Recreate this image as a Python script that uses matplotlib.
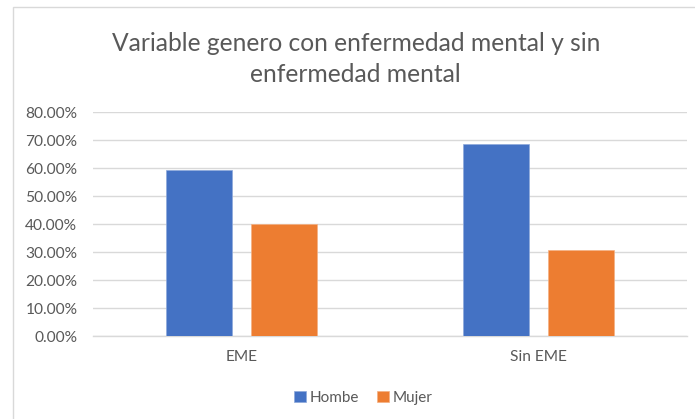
import matplotlib
matplotlib.use("Agg")
import matplotlib.pyplot as plt
from matplotlib.patches import Rectangle
from matplotlib.ticker import PercentFormatter
import numpy as np

# Share by gender, with and without mental illness
categories = ["EME", "Sin EME"]
hombre = [59.4, 68.7]
mujer = [40.1, 30.8]
series_names = ["Hombe", "Mujer"]
title_lines = ["Variable genero con enfermedad mental y sin", "enfermedad mental"]

plt.rcParams["font.family"] = ["Lato", "DejaVu Sans"]
grey = "#595959"

fig = plt.figure(figsize=(6.95, 4.19), dpi=100)
ax = fig.add_axes([0.1343, 0.1969, 0.8537, 0.5351])

x = np.arange(len(categories))
w = 0.222
off = 0.143
ax.bar(x - off, hombre, w, color="#4472C4", edgecolor="#8ea9db", linewidth=0.5,
       label=series_names[0], zorder=3)
ax.bar(x + off, mujer, w, color="#ED7D31", edgecolor="#f4b183", linewidth=0.5,
       label=series_names[1], zorder=3)

ax.set_xlim(-0.5, 1.5)
ax.set_ylim(0, 80)
ax.set_yticks(np.arange(0, 81, 10))
ax.yaxis.set_major_formatter(PercentFormatter(decimals=2))
ax.set_xticks(x)
ax.set_xticklabels(categories)
ax.grid(axis="y", color="#d9d9d9", linewidth=1.0, zorder=0)
for s in ["top", "right", "left"]:
    ax.spines[s].set_visible(False)
ax.spines["bottom"].set_color("#d9d9d9")
ax.spines["bottom"].set_linewidth(1.0)
ax.tick_params(axis="both", length=0, colors=grey, labelsize=11.2)
ax.tick_params(axis="y", pad=11.5)
ax.tick_params(axis="x", pad=10)

# two-line title
fig.text(0.512, 1 - 51 / 419, title_lines[0], ha="center", va="baseline",
         fontsize=17.7, color=grey)
fig.text(0.512, 1 - 82 / 419, title_lines[1], ha="center", va="baseline",
         fontsize=17.7, color=grey)

ax.legend(loc="center", bbox_to_anchor=(0.523, 1 - 398 / 419), bbox_transform=fig.transFigure,
          ncol=2, frameon=False, fontsize=11, labelcolor=grey,
          handlelength=0.75, handleheight=0.75, handletextpad=0.25, columnspacing=1.2)

# chart frame
fig.patches.append(Rectangle((0.0187, -0.05), 1.2, 1.033, transform=fig.transFigure,
                             fill=False, edgecolor="#d9d9d9", linewidth=1.0))

fig.savefig("out.png", dpi=100)
